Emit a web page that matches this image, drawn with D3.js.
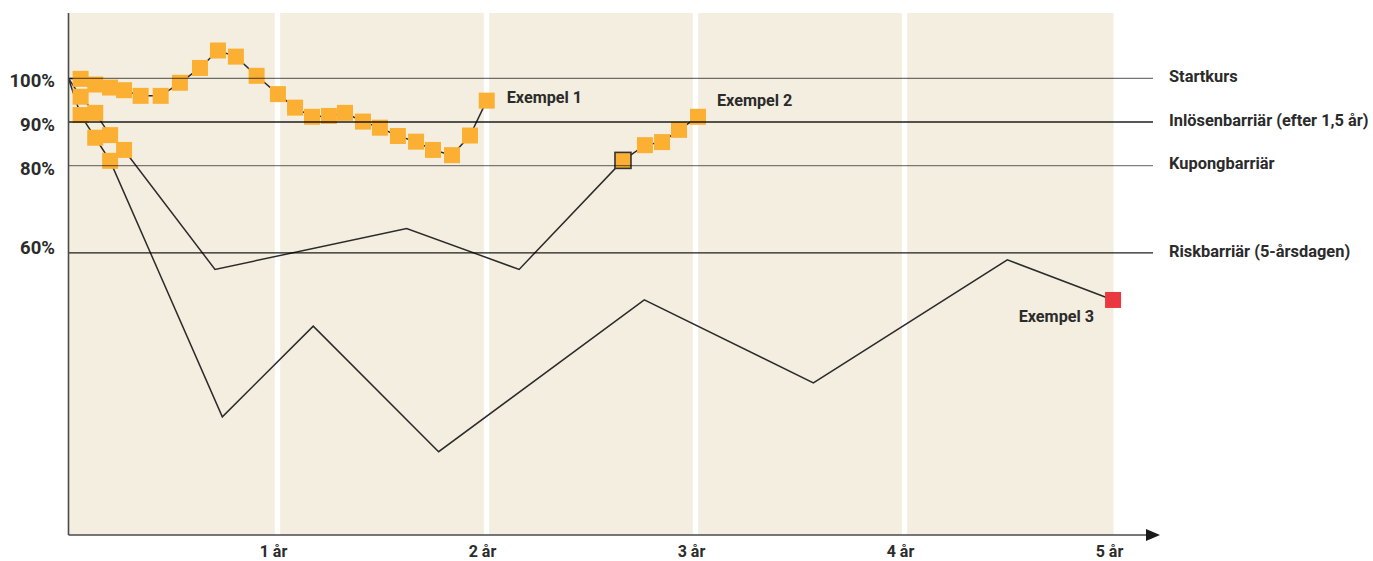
<!DOCTYPE html>
<html><head><meta charset="utf-8">
<script src="https://cdn.jsdelivr.net/npm/d3@7"></script>
<style>
body{margin:0;background:#fff}
svg{display:block}
text{font-family:Roboto,"DejaVu Sans",sans-serif;font-weight:700;fill:#2b2b2b}
</style>
</head><body><svg id="c" width="1373" height="561"></svg>
<script>
// ---- data ----
const yearTicks = [1, 2, 3, 4, 5];
const yearLabels = ["1 år", "2 år", "3 år", "4 år", "5 år"];
const levelValues = [100, 90, 80, 60];
const levelAxisLabels = ["100%", "90%", "80%", "60%"];
const levelNames = ["Startkurs", "Inlösenbarriär (efter 1,5 år)", "Kupongbarriär", "Riskbarriär (5-årsdagen)"];

// Exempel 1 (time in years, level in %)
const ex1T = [0, 0.058, 0.128, 0.199, 0.266, 0.345, 0.441, 0.533, 0.629, 0.715, 0.801, 0.900, 1.002, 1.084, 1.165, 1.246, 1.323, 1.409, 1.490, 1.576, 1.663, 1.744, 1.835, 1.921, 2.001];
const ex1V = [100, 99.9, 98.6, 97.9, 97.3, 96.0, 96.0, 99.0, 102.4, 106.4, 105.0, 100.6, 96.4, 93.3, 91.2, 91.4, 92.1, 90.1, 88.7, 86.8, 85.5, 83.6, 82.4, 86.9, 94.9];
const ex1Markers = [1, 2, 3, 4, 5, 6, 7, 8, 9, 10, 11, 12, 13, 14, 15, 16, 17, 18, 19, 20, 21, 22, 23, 24];

// Exempel 2
const ex2T = [0, 0.058, 0.128, 0.199, 0.266, 0.701, 1.618, 2.156, 2.653, 2.758, 2.840, 2.921, 3.012];
const ex2V = [100, 95.8, 92.1, 87.0, 83.6, 56.2, 65.6, 56.2, 81.2, 84.7, 85.4, 88.2, 91.2];
const ex2Markers = [1, 2, 3, 4, 8, 9, 10, 11, 12];
const ex2Outlined = [8];

// Exempel 3
const ex3T = [0, 0.058, 0.128, 0.199, 0.736, 1.171, 1.771, 2.755, 3.564, 4.492, 4.998];
const ex3V = [100, 91.6, 86.4, 81.1, 22.4, 43.2, 14.4, 49.2, 30.2, 58.4, 49.2];
const ex3Markers = [1, 2, 3];
const ex3End = [10];

const exampleLabels = ["Exempel 1", "Exempel 2", "Exempel 3"];

// ---- drawing ----
const svg = d3.select("#c");
const x = d3.scaleLinear().domain([0, 5]).range([68.5, 1113.5]);
const y = d3.scaleLinear().domain([-4.7, 115]).range([535, 13]);

const BG = "#f3eedf", ORANGE = "#fbb034", RED = "#e9383f", INK = "#2b2b2b";

// background panel
svg.append("rect").attr("x", x(0)).attr("y", y(115))
  .attr("width", x(5) - x(0)).attr("height", y(-4.7) - y(115)).attr("fill", BG);

// white year stripes
svg.selectAll(".stripe").data(yearTicks.slice(0, 4)).join("rect")
  .attr("x", d => x(d) - 2.7).attr("y", y(115)).attr("width", 5.4)
  .attr("height", y(-4.7) - y(115)).attr("fill", "#fff");

const line = d3.line().x(d => x(d[0])).y(d => y(d[1]));
const zipS = (T, V) => T.map((t, i) => [t, V[i]]);
const s1 = zipS(ex1T, ex1V), s2 = zipS(ex2T, ex2V), s3 = zipS(ex3T, ex3V);

[s3, s2, s1].forEach(s => {
  svg.append("path").attr("d", line(s)).attr("fill", "none")
    .attr("stroke", INK).attr("stroke-width", 1.5).attr("stroke-linejoin", "miter");
});

const M = 16;
function markers(s, idx, fill, stroke) {
  svg.append("g").selectAll("rect").data(idx.map(i => s[i])).join("rect")
    .attr("x", d => x(d[0]) - M / 2).attr("y", d => y(d[1]) - M / 2)
    .attr("width", M).attr("height", M).attr("fill", fill)
    .attr("stroke", stroke || "none").attr("stroke-width", stroke ? 1.6 : 0);
}
markers(s3, ex3Markers, ORANGE);
markers(s3, ex3End, RED);
markers(s2, ex2Markers.filter(i => !ex2Outlined.includes(i)), ORANGE);
markers(s2, ex2Outlined, ORANGE, "#333");
markers(s1, ex1Markers, ORANGE);

// horizontal level lines (drawn over markers)
const levelStroke = ["rgba(0,0,0,0.55)", "rgba(0,0,0,0.88)", "rgba(0,0,0,0.5)", "rgba(0,0,0,0.88)"];
svg.selectAll(".lvl").data(levelValues).join("line")
  .attr("x1", x(0)).attr("x2", 1153)
  .attr("y1", d => y(d)).attr("y2", d => y(d))
  .attr("stroke", (d, i) => levelStroke[i]).attr("stroke-width", 1.4);

// axes
svg.append("line").attr("x1", x(0)).attr("x2", x(0)).attr("y1", y(115)).attr("y2", y(-4.7))
  .attr("stroke", "#4a4a4a").attr("stroke-width", 1.6);
svg.append("line").attr("x1", x(0)).attr("x2", 1148).attr("y1", y(-4.7)).attr("y2", y(-4.7))
  .attr("stroke", "#4a4a4a").attr("stroke-width", 1.6);
svg.append("path")
  .attr("d", `M1146,${y(-4.7) - 6}L1160,${y(-4.7)}L1146,${y(-4.7) + 6}Z`).attr("fill", "#1a1a1a");

// y labels
const levelLabelDy = [9, 9, 9.5, 1];
svg.selectAll(".ylab").data(levelValues).join("text")
  .attr("x", 55).attr("y", (d, i) => y(d) + levelLabelDy[i])
  .attr("text-anchor", "end").attr("font-size", 18.5)
  .text((d, i) => levelAxisLabels[i]);

// right-hand level names
svg.selectAll(".lname").data(levelValues).join("text")
  .attr("x", 1169).attr("y", d => y(d) + 3.8)
  .attr("font-size", 16.4)
  .text((d, i) => levelNames[i]);

// x labels
svg.selectAll(".xlab").data(yearTicks).join("text")
  .attr("x", d => x(d) - 4).attr("y", 556.5)
  .attr("text-anchor", "middle").attr("font-size", 16)
  .text((d, i) => yearLabels[i]);

// example labels
const e1 = s1[s1.length - 1], e2 = s2[s2.length - 1], e3 = s3[s3.length - 1];
svg.append("text").attr("x", x(e1[0]) + 20).attr("y", y(e1[1]) + 2.5)
  .attr("font-size", 16.2).text(exampleLabels[0]);
svg.append("text").attr("x", x(e2[0]) + 19).attr("y", y(e2[1]) - 11)
  .attr("font-size", 16.2).text(exampleLabels[1]);
svg.append("text").attr("x", x(e3[0]) - 19).attr("y", y(e3[1]) + 22)
  .attr("text-anchor", "end").attr("font-size", 16.2).text(exampleLabels[2]);
</script>
</body></html>
